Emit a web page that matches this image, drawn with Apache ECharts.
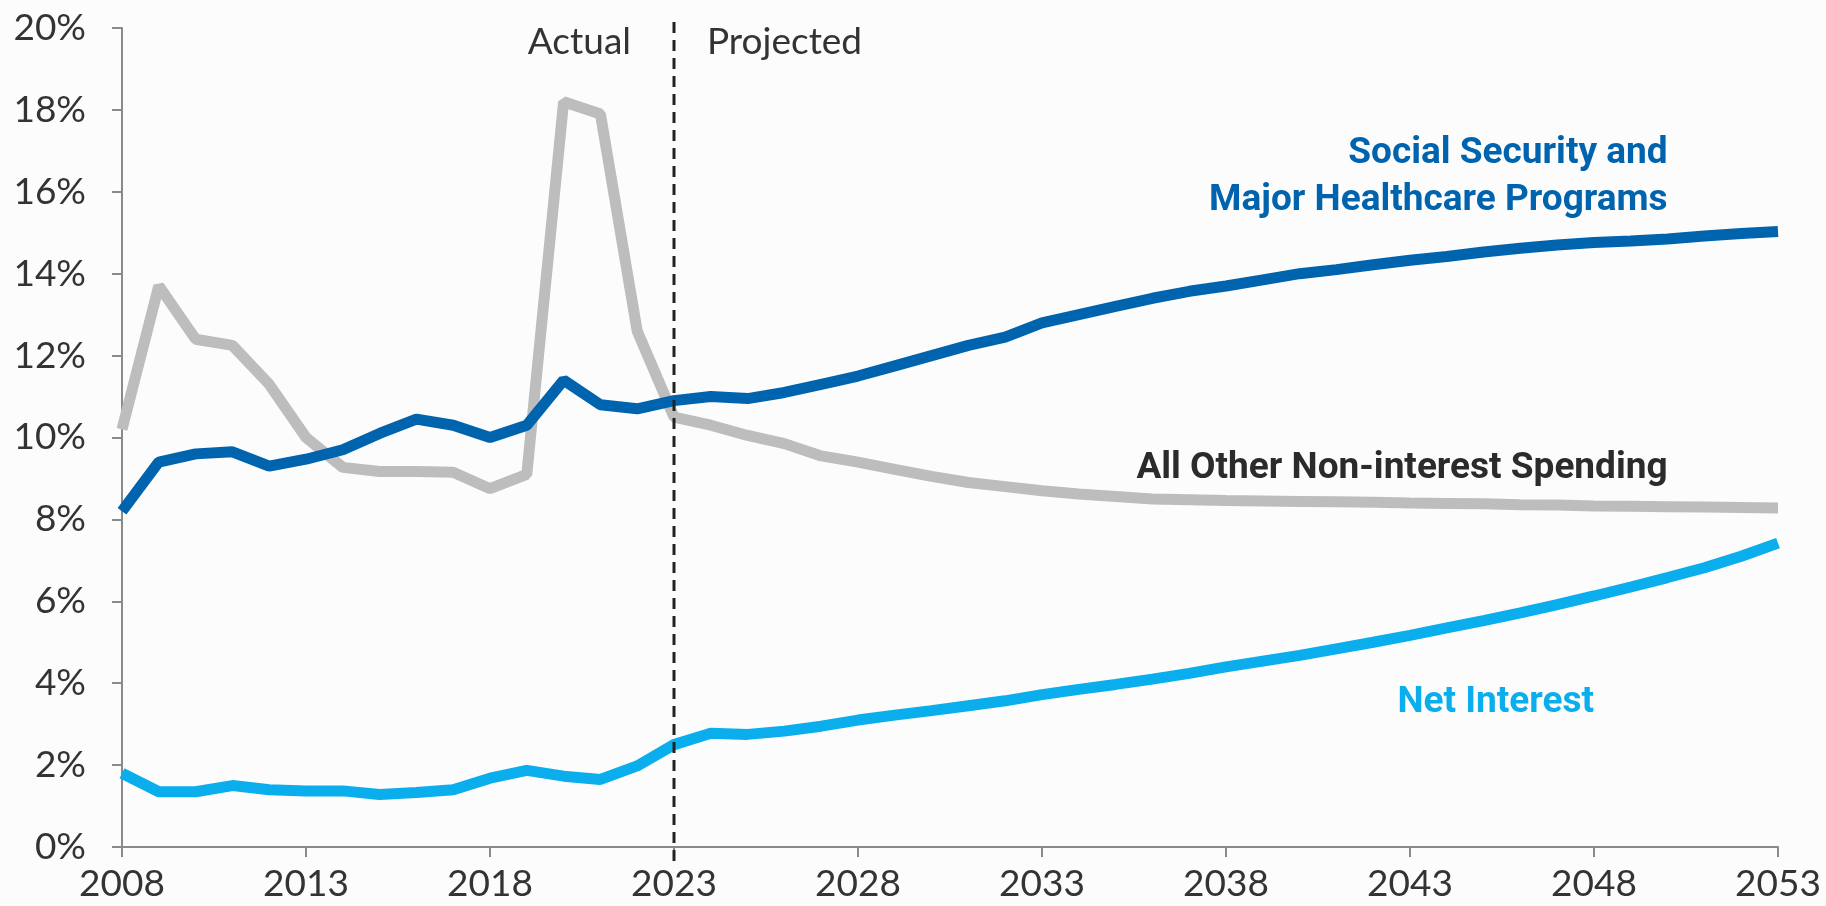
<!DOCTYPE html>
<html>
<head>
<meta charset="utf-8">
<script src="https://cdn.jsdelivr.net/npm/echarts@6/dist/echarts.min.js"></script>
<style>
html,body{margin:0;padding:0;background:#fcfcfc;}
#chart{width:1826px;height:906px;}
</style>
</head>
<body>
<div id="chart"></div>
<script>
const years = [];
for (let y = 2008; y <= 2053; y++) years.push(String(y));

const socialSecurityHealth = [8.2,9.4,9.6,9.65,9.3,9.47,9.7,10.1,10.45,10.3,10.0,10.3,11.4,10.8,10.7,10.9,11.0,10.95,11.1,11.3,11.5,11.75,12.0,12.25,12.45,12.8,13.0,13.2,13.4,13.57,13.7,13.85,14.0,14.1,14.22,14.33,14.42,14.53,14.62,14.7,14.76,14.8,14.85,14.92,14.98,15.03];
const allOtherNonInterest = [10.2,13.7,12.4,12.25,11.3,10.0,9.27,9.17,9.17,9.15,8.75,9.1,18.2,17.9,12.6,10.5,10.3,10.05,9.85,9.55,9.4,9.22,9.05,8.9,8.8,8.7,8.62,8.56,8.5,8.48,8.46,8.45,8.44,8.43,8.42,8.4,8.39,8.38,8.36,8.35,8.33,8.32,8.31,8.3,8.29,8.28];
const netInterest = [1.8,1.35,1.35,1.5,1.4,1.37,1.37,1.28,1.33,1.4,1.68,1.87,1.73,1.65,1.98,2.5,2.78,2.75,2.83,2.95,3.1,3.22,3.33,3.45,3.57,3.72,3.85,3.97,4.1,4.24,4.4,4.54,4.68,4.84,5.0,5.17,5.35,5.53,5.72,5.92,6.13,6.35,6.58,6.82,7.1,7.42];
const yTicks = [0,2,4,6,8,10,12,14,16,18,20];
const dividerYear = '2023';

const chart = echarts.init(document.getElementById('chart'), null, {renderer:'canvas'});
const axisFont = 'Lato, "Open Sans", sans-serif';
const labelFont = 'Roboto, "Noto Sans", sans-serif';

const option = {
  backgroundColor: '#fcfcfc',
  animation: false,
  grid: {left: 122, right: 48, top: 28, bottom: 59, containLabel: false},
  xAxis: {
    type: 'category',
    data: years,
    boundaryGap: false,
    axisLine: {lineStyle: {color: '#8a8a8a', width: 2}},
    axisTick: {show: true, interval: 4, length: 10, lineStyle: {color: '#8a8a8a', width: 2}},
    axisLabel: {interval: 4, color: '#333', fontFamily: axisFont, fontSize: 37, margin: 19},
    splitLine: {show: false}
  },
  yAxis: {
    type: 'value',
    min: yTicks[0], max: yTicks[yTicks.length-1], interval: 2,
    axisLine: {show: true, lineStyle: {color: '#8a8a8a', width: 2}},
    axisTick: {show: true, length: 10, lineStyle: {color: '#8a8a8a', width: 2}},
    axisLabel: {formatter: '{value}%', color: '#333', fontFamily: axisFont, fontSize: 37, margin: 36},
    splitLine: {show: false}
  },
  series: [
    {name: 'All Other Non-interest Spending', type: 'line', data: allOtherNonInterest, showSymbol: false,
     lineStyle: {color: '#bdbdbd', width: 11, cap: 'butt'}, itemStyle: {color: '#bdbdbd'}, z: 2},
    {name: 'Social Security and Major Healthcare Programs', type: 'line', data: socialSecurityHealth, showSymbol: false,
     lineStyle: {color: '#0063ae', width: 11, cap: 'butt'}, itemStyle: {color: '#0063ae'}, z: 3},
    {name: 'Net Interest', type: 'line', data: netInterest, showSymbol: false,
     lineStyle: {color: '#0aaeec', width: 11, cap: 'butt'}, itemStyle: {color: '#0aaeec'}, z: 3}
  ]
};
chart.setOption(option);

const xd = chart.convertToPixel({xAxisIndex: 0}, dividerYear);
const yTop = chart.convertToPixel({yAxisIndex: 0}, 20);
const yBot = chart.convertToPixel({yAxisIndex: 0}, 0);
function pt(idx, v) { return chart.convertToPixel({gridIndex: 0}, [idx, v]); }
const ssPos = pt(41.82, 16.35);
const otherPos = pt(41.87, 9.225);
const niPos = pt(40.24, 3.53);

chart.setOption({
  graphic: [
    {type: 'line', z: 10, shape: {x1: xd, y1: yTop - 6, x2: xd, y2: yBot + 14},
     style: {stroke: '#222', lineWidth: 3, lineDash: [11, 7]}},
    {type: 'text', z: 10, x: xd - 43, y: yTop + 14,
     style: {text: 'Actual', font: '37px ' + axisFont, fill: '#333', textAlign: 'right', textVerticalAlign: 'middle'}},
    {type: 'text', z: 10, x: xd + 33, y: yTop + 14,
     style: {text: 'Projected', font: '37px ' + axisFont, fill: '#333', textAlign: 'left', textVerticalAlign: 'middle'}},
    {type: 'text', z: 10, x: ssPos[0], y: ssPos[1],
     style: {text: 'Social Security and\nMajor Healthcare Programs', font: 'bold 37px ' + labelFont, lineHeight: 47, fill: '#0063ae', textAlign: 'right', textVerticalAlign: 'middle'}},
    {type: 'text', z: 10, x: otherPos[0], y: otherPos[1],
     style: {text: 'All Other Non-interest Spending', font: 'bold 37px ' + labelFont, fill: '#2b2b2b', textAlign: 'right', textVerticalAlign: 'middle'}},
    {type: 'text', z: 10, x: niPos[0], y: niPos[1],
     style: {text: 'Net Interest', font: 'bold 37px ' + labelFont, fill: '#0aaeec', textAlign: 'right', textVerticalAlign: 'middle'}}
  ]
});
</script>
</body>
</html>
